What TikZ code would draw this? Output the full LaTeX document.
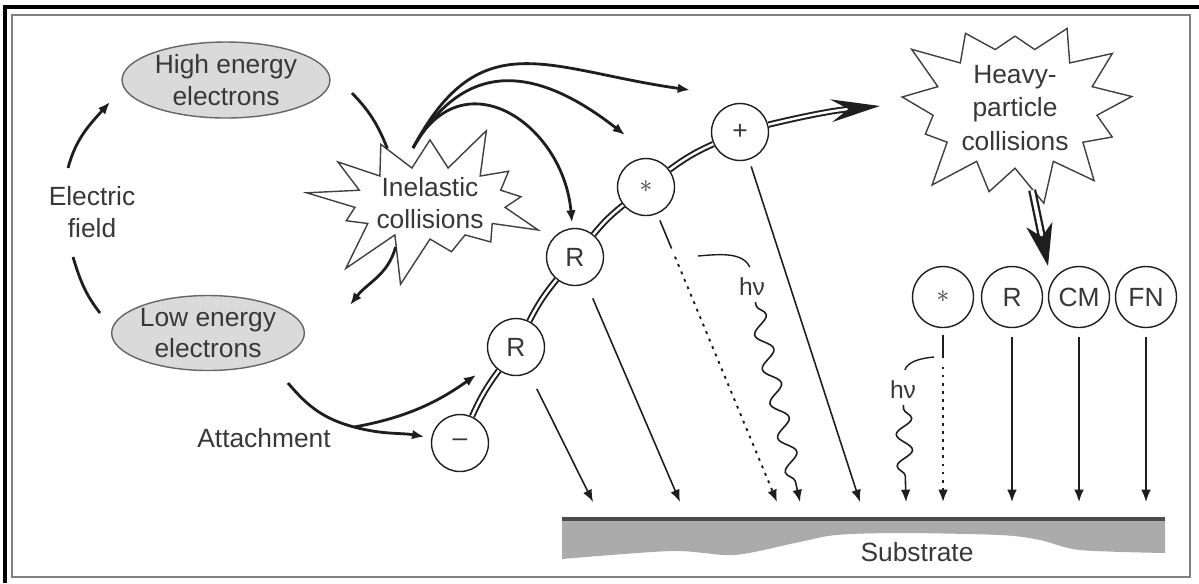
\documentclass[tikz,border=0pt]{standalone}
\usepackage{fontspec}
\setmainfont{Liberation Sans}
\usetikzlibrary{arrows.meta,shapes.geometric,shapes.symbols,decorations.pathmorphing}

\definecolor{ink}{HTML}{1E1E1E}
\definecolor{lab}{HTML}{383838}
\definecolor{shell}{HTML}{DADADA}
\definecolor{sub}{HTML}{ABABAB}

\tikzset{
  cloud/.style={ellipse, draw=gray!80!black, fill=shell, line width=0.8pt, inner sep=0pt, align=center, text=lab},
  blast/.style={starburst, draw=ink!85, line width=0.8pt, fill=white, align=center, text=lab, inner sep=0pt},
  atom/.style={circle, draw=ink, line width=0.8pt, fill=white, minimum size=1.14cm, inner sep=0pt, text=lab},
  cyc/.style={ink, line width=1.6pt},
  tip/.style={-{Latex[length=7pt,width=5.5pt]}},
  ray/.style={ink, line width=0.9pt, -{Latex[length=7pt,width=5.5pt]}},
  dots/.style={line width=1.1pt, dash pattern=on 1.6pt off 3pt},
  chain/.style={ink, double=white, line width=1.1pt, double distance=1.4pt},
  photon/.style={ink, line width=0.9pt, -{Latex[length=7pt,width=5.5pt]}, decorate,
    decoration={snake, amplitude=4.5pt, segment length=20pt, pre length=2pt, post length=7pt}},
}

\begin{document}
\begin{tikzpicture}[x=0.02cm, y=-0.02cm, font=\fontsize{15}{18}\selectfont]
\useasboundingbox (0,0) rectangle (1199,583);
% frame
\draw[line width=2pt] (5,583) -- (5,7) -- (1199,7);
\draw[gray, line width=1.6pt] (12,577) rectangle (1190,15);

% substrate
\fill[sub] (562,520) -- (1165,520) -- plot[smooth] coordinates {(1165,553) (1080,550) (1040,540) (1000,535) (900,533) (836,535) (795,543) (734,555) (672,551) (562,559)} -- cycle;
\draw[gray!60!black, line width=2.2pt] (562,519) -- (1165,519);
\node[text=lab] (substrate) at (917,552) {Substrate};

% electrons and collisions
\node[cloud, minimum width=4.16cm, minimum height=1.52cm] (high) at (226,80) {High energy\\electrons};
\node[cloud, minimum width=3.6cm, minimum height=1.5cm] (low) at (208,333) {Low energy\\electrons};
\node[text=lab, align=center] (field) at (92,212) {Electric\\field};
\node[text=lab] (attach) at (264,438) {Attachment};
\node[blast, minimum width=5cm, minimum height=2.8cm, starburst points=13, starburst point height=1.05cm, random starburst=12] (inel) at (430,203) {Inelastic\\collisions};
\node[blast, minimum width=5.1cm, minimum height=2.9cm, starburst points=13, starburst point height=0.9cm, random starburst=23, font=\fontsize{15}{19}\selectfont] (heavy) at (1015,108) {Heavy-\\particle\\collisions};

% species along the chain
\node[atom] (neg) at (460,443) {–};
\node[atom] (rad1) at (516,347) {R};
\node[atom] (rad2) at (575,257) {R};
\node[atom] (exc1) at (646,187) {$\ast$};
\node[atom] (ion) at (740,132) {+};

% species from heavy-particle collisions
\node[atom, minimum size=1.22cm] (exc2) at (943,297) {$\ast$};
\node[atom, minimum size=1.22cm] (rad3) at (1012,297) {R};
\node[atom, minimum size=1.22cm] (cm) at (1079,297) {CM};
\node[atom, minimum size=1.22cm] (fn) at (1146,297) {FN};

% photons
\node[text=lab, font=\fontsize{14}{16}\selectfont] (hv1) at (752,287) {hν};
\node[text=lab, font=\fontsize{14}{16}\selectfont] (hv2) at (903,390) {hν};

\coordinate (fe-top) at (68,168);
\coordinate (fe-bot) at (73,257);
\coordinate (hi-in) at (110,102);
\coordinate (hi-out) at (352,93);
\coordinate (lo-top) at (100,313);
\coordinate (lo-in) at (350,305);
\coordinate (fan) at (413,148);
\coordinate (fan-a) at (690,90);
\coordinate (fan-b) at (625,135);
\coordinate (att-in) at (288,383);
\coordinate (att-mid) at (354,427);
\coordinate (chain-end) at (880,106);
\coordinate (heavy-out) at (1048,266);
\coordinate (hv1-arc) at (698,256);
\coordinate (hv2-arc) at (934,357);
\coordinate (t-r1) at (593,502);
\coordinate (t-r2) at (680,502);
\coordinate (t-exc1) at (777,502);
\coordinate (t-hv1) at (800,502);
\coordinate (t-ion) at (860,502);
\coordinate (t-hv2) at (906,502);
\coordinate (t-exc2) at (943,502);
\coordinate (t-r3) at (1012,502);
\coordinate (t-cm) at (1079,502);
\coordinate (t-fn) at (1146,502);

% electron cycle
\draw[cyc, tip] (fe-top) to[out=75, in=228] (hi-in);
\draw[cyc] (fe-bot) to[out=-73, in=128] (lo-top);
\draw[cyc] (hi-out) to[out=-46, in=112] (inel.128);
\draw[cyc, tip] (inel.-128) to[out=-105, in=52] (lo-in);

% products of inelastic collisions
\draw[cyc, tip] (fan) to[out=62, in=172, looseness=1.3] (fan-a);
\draw[cyc, tip] (fan) to[out=60, in=142, looseness=1.3] (fan-b);
\draw[cyc, tip, shorten >=3pt] (fan) to[out=62, in=95, looseness=1.5] (rad2);

% attachment
\draw[cyc] (att-in) to[out=-50, in=165] (att-mid);
\draw[cyc, tip, shorten >=4pt] (att-mid) to[out=-15, in=170] (neg);
\draw[cyc, tip, shorten >=11pt] (att-mid) to[out=10, in=215] (rad1);

% chain
\draw[chain] (neg) to[bend left=6] (rad1);
\draw[chain] (rad1) to[bend left=6] (rad2);
\draw[chain] (rad2) to[bend left=6] (exc1);
\draw[chain] (exc1) to[bend left=6] (ion);
\draw[chain, -{Stealth[length=28pt,width=13pt,inset=10pt]}] (ion) to[bend left=4] (chain-end);
\draw[chain, line width=1.3pt, double distance=2pt, -{Stealth[length=24pt,width=15pt,inset=7pt]}] (heavy) -- (heavy-out);

% fluxes to the substrate
\draw[ray, shorten <=10pt] (rad1) -- (t-r1);
\draw[ray, shorten <=9pt] (rad2) -- (t-r2);
\draw[ray, shorten <=4pt] (ion) -- (t-ion);
\path (exc1) -- coordinate[pos=0.12] (exc1-d) (t-exc1);
\draw[ink, line width=0.9pt, shorten <=4pt] (exc1) -- (exc1-d);
\draw[ray, dots, shorten <=5pt] (exc1-d) -- (t-exc1);
\path (exc2) -- coordinate[pos=0.17] (exc2-d) (t-exc2);
\draw[ink, line width=0.9pt, shorten <=4pt] (exc2) -- (exc2-d);
\draw[ray, dots, shorten <=5pt] (exc2-d) -- (t-exc2);
\draw[ray, shorten <=5pt] (rad3) -- (t-r3);
\draw[ray, shorten <=5pt] (cm) -- (t-cm);
\draw[ray, shorten <=5pt] (fn) -- (t-fn);

% photon emission
\draw[ink, line width=0.8pt, shorten >=3pt] (hv1-arc) to[out=5, in=115] (hv1.north);
\draw[ink, line width=0.8pt, shorten >=3pt] (hv2-arc) to[out=185, in=70] (hv2.north);
\draw[photon] (hv1) -- (t-hv1);
\draw[photon, decoration={segment length=18pt}] (hv2) -- (t-hv2);
\end{tikzpicture}
\end{document}
